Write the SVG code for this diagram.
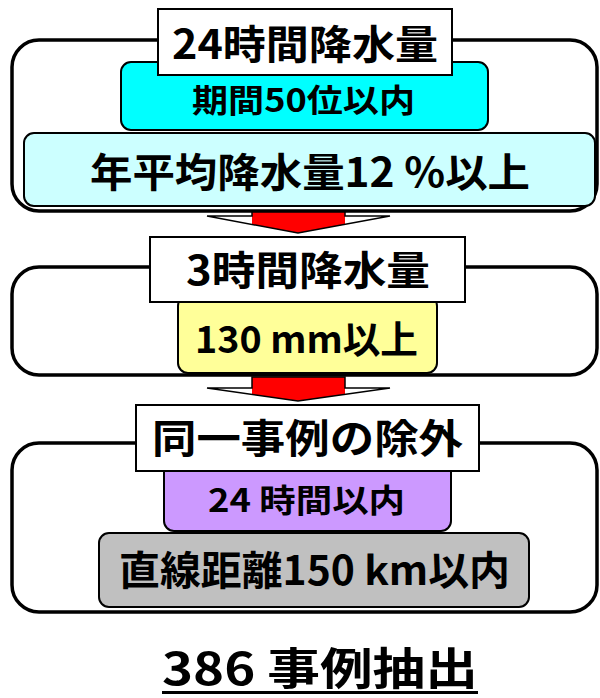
<svg xmlns="http://www.w3.org/2000/svg" width="600" height="698" viewBox="0 0 600 698">
<defs>
<style>
.outer{fill:#fff;stroke:#000;stroke-width:3.5}
.title{fill:#fff;stroke:#000;stroke-width:2}
.sub{stroke:#000;stroke-width:2}
.t{font-family:"Noto Sans CJK JP","Liberation Sans",sans-serif;font-weight:bold;fill:#000}
.arrow{fill:url(#ag);stroke:#000;stroke-width:1.5;stroke-linejoin:miter}
</style>
<linearGradient id="ag" x1="207" y1="0" x2="390" y2="0" gradientUnits="userSpaceOnUse">
<stop offset="0" stop-color="#fff"/>
<stop offset="0.245" stop-color="#fff"/>
<stop offset="0.246" stop-color="#f00"/>
<stop offset="0.754" stop-color="#f00"/>
<stop offset="0.755" stop-color="#fff"/>
<stop offset="1" stop-color="#fff"/>
</linearGradient>
</defs>

<g id="stage1">
<rect class="outer" x="12" y="40" width="585" height="171" rx="27"/>
<rect class="sub" x="121" y="62" width="367" height="68" rx="10" fill="#00ffff"/>
<rect class="sub" x="24" y="133" width="571" height="73" rx="10" fill="#ccffff"/>
<rect class="title" x="158" y="9" width="294" height="66"/>
<text class="t" x="172" y="59" font-size="40" textLength="266" lengthAdjust="spacingAndGlyphs">24時間降水量</text>
<text class="t" x="192" y="112" font-size="32" textLength="223" lengthAdjust="spacingAndGlyphs">期間50位以内</text>
<text class="t" x="90" y="187" font-size="40" textLength="440" lengthAdjust="spacingAndGlyphs">年平均降水量12 %以上</text>
</g>

<g id="stage2">
<rect class="outer" x="12" y="267" width="585" height="108" rx="27"/>
<rect class="sub" x="178" y="296" width="259" height="77" rx="10" fill="#ffff99"/>
<rect class="title" x="150" y="237" width="315" height="65"/>
<text class="t" x="186" y="285" font-size="40" textLength="244" lengthAdjust="spacingAndGlyphs">3時間降水量</text>
<text class="t" x="195" y="353" font-size="38" textLength="223" lengthAdjust="spacingAndGlyphs">130 mm以上</text>
</g>

<g id="stage3">
<rect class="outer" x="12" y="443" width="585" height="169" rx="27"/>
<rect class="sub" x="164" y="460" width="287" height="71" rx="10" fill="#cc99ff"/>
<rect class="sub" x="99" y="533" width="430" height="74" rx="10" fill="#c0c0c0"/>
<rect class="title" x="136" y="405" width="343" height="66"/>
<text class="t" x="152" y="453" font-size="40" textLength="311" lengthAdjust="spacingAndGlyphs">同一事例の除外</text>
<text class="t" x="208" y="512" font-size="32" textLength="197" lengthAdjust="spacingAndGlyphs">24 時間以内</text>
<text class="t" x="119" y="585" font-size="40" textLength="391" lengthAdjust="spacingAndGlyphs">直線距離150 km以内</text>
</g>

<g id="connectors">
<polygon class="arrow" points="252,212 345,212 345,216 390,216 298,233 207,216 252,216"/>
<polygon class="arrow" points="252,377 345,377 345,388 390,388 298,401 207,388 252,388"/>
</g>

<g id="result">
<text class="t" x="162" y="685" font-size="44" textLength="316" lengthAdjust="spacingAndGlyphs">386 事例抽出</text>
<rect x="162" y="691" width="316" height="3" fill="#000"/>
</g>
</svg>
